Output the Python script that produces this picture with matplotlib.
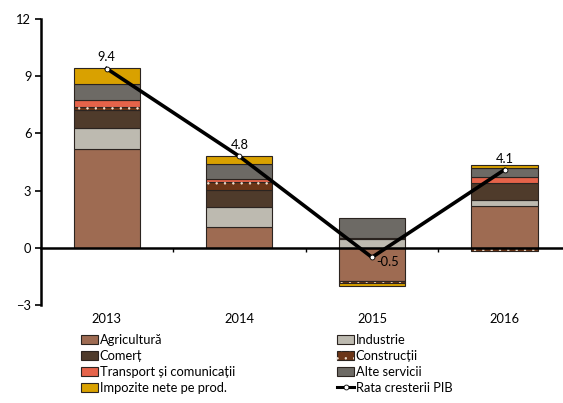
import numpy as np  # for arrays
import matplotlib
matplotlib.use("Agg")
import matplotlib.pyplot as plt  # for plotting
from matplotlib.patches import Patch
from matplotlib.lines import Line2D

plt.rcParams['font.family'] = ['Lato', 'DejaVu Sans']
plt.rcParams['hatch.linewidth'] = 0.5

# DATA (percentage points contribution to GDP growth)
years = ["2013", "2014", "2015", "2016"]
agricultura = [5.16, 1.09, -1.74, 2.21]
industrie = [1.10, 1.05, 0.45, 0.32]
comert = [0.95, 0.91, 0.08, 0.88]
constructii = [0.20, 0.41, -0.12, -0.18]
transport = [0.32, 0.16, 0.0, 0.30]
alte_servicii = [0.84, 0.80, 1.02, 0.50]
impozite = [0.85, 0.38, -0.15, 0.12]
gdp_growth = [9.4, 4.8, -0.5, 4.1]

series_names = ["Agricultură", "Industrie", "Comerț", "Construcții",
                "Transport și comunicații", "Alte servicii", "Impozite nete pe prod."]
series_vals = [agricultura, industrie, comert, constructii, transport, alte_servicii, impozite]
series_colors = ["#9E6B52", "#BDBAB0", "#4F3B2B", "#6B3517", "#E5634A", "#6D6A65", "#D9A100"]
gdp_label = "Rata cresterii PIB"

FS = 9.3

fig = plt.figure(figsize=(5.63, 4.03), dpi=100)
ax = fig.add_axes([41 / 563, 1 - 305 / 403, (563 - 41) / 563, (305 - 19) / 403])

x = np.arange(len(years))
width = 0.5
pos_base = np.zeros(len(years))
neg_base = np.zeros(len(years))
handles = []
for name, vals, col in zip(series_names, series_vals, series_colors):
    vals = np.array(vals, dtype=float)
    bottoms = np.where(vals >= 0, pos_base, neg_base)
    ax.bar(x, vals, width, bottom=bottoms, color=col, edgecolor="#2b2420", linewidth=0.8, zorder=2)
    if name == "Construcții":
        # white dots on construction segments
        ax.bar(x, vals, width, bottom=bottoms, facecolor="none", edgecolor="#f0e0d0",
               hatch="..", linewidth=0, zorder=2.5)
        handles.append((Patch(facecolor=col, edgecolor="#2b2420", linewidth=0.8),
                        Patch(facecolor="none", edgecolor="#f0e0d0", hatch="..", linewidth=0)))
    else:
        handles.append(Patch(facecolor=col, edgecolor="#2b2420", linewidth=0.8))
    pos_base = pos_base + np.where(vals >= 0, vals, 0)
    neg_base = neg_base + np.where(vals < 0, vals, 0)

# GDP growth line
ax.plot(x, gdp_growth, color="black", linewidth=2.6, marker="o", markersize=3.5,
        markerfacecolor="white", markeredgecolor="black", markeredgewidth=0.6, zorder=4)
line_handle = Line2D([0], [0], color="black", linewidth=2.2, marker="o", markersize=3.5,
                     markerfacecolor="white", markeredgecolor="black", markeredgewidth=0.6)

for i, v in enumerate(gdp_growth):
    if v < 0:
        ax.annotate(f"{v}", (x[i], v), xytext=(3, -3), textcoords="offset points",
                    ha="left", va="center", fontsize=FS, zorder=5)
    else:
        ax.annotate(f"{v}", (x[i], v), xytext=(0, 8), textcoords="offset points",
                    ha="center", va="center", fontsize=FS, zorder=5)

# Axes styling
ax.set_xlim(-0.495, 3.44)
ax.set_ylim(-3, 12)
ax.set_yticks([-3, 0, 3, 6, 9, 12])
ax.tick_params(axis="y", direction="out", length=4, width=1.2, labelsize=FS, pad=3)
for s in ["top", "right"]:
    ax.spines[s].set_visible(False)
ax.spines["left"].set_linewidth(1.8)
ax.spines["bottom"].set_position(("data", 0))
ax.spines["bottom"].set_linewidth(1.8)
ax.spines["bottom"].set_zorder(3)
ax.set_xticks([0.5, 1.5, 2.5])
ax.set_xticklabels([])
ax.tick_params(axis="x", direction="out", length=3, width=1)
for i, yr in enumerate(years):
    ax.text(i, -3.75, yr, ha="center", va="center", fontsize=FS, clip_on=False)

# Legend (row-wise order, two columns)
leg_handles = [handles[i] for i in [0, 2, 4, 6]] + [handles[i] for i in [1, 3, 5]] + [line_handle]
leg_labels = [series_names[i] for i in [0, 2, 4, 6]] + [series_names[i] for i in [1, 3, 5]] + [gdp_label]
fig.legend(leg_handles, leg_labels, loc="upper left", bbox_to_anchor=(81 / 563, 1 - 334 / 403),
           ncol=2, frameon=False, fontsize=FS, handlelength=1.35, handleheight=0.7,
           handletextpad=0.1, labelspacing=0.3, columnspacing=7.9, borderpad=0, borderaxespad=0)

fig.savefig("out.png", dpi=100)
